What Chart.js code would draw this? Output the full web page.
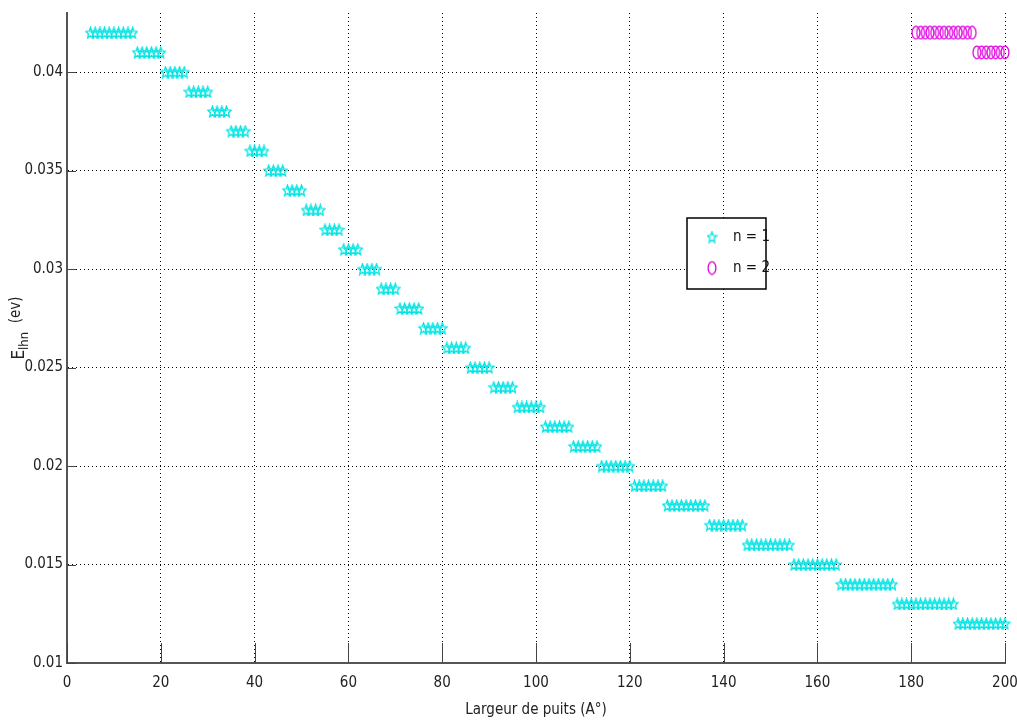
<!DOCTYPE html>
<html>
<head>
<meta charset="utf-8">
<script src="https://cdn.jsdelivr.net/npm/chart.js@4/dist/chart.umd.min.js"></script>
<style>
  html, body { margin: 0; padding: 0; background: #fff; }
  #wellChart { display: block; }
</style>
</head>
<body>
<canvas id="wellChart" width="1017" height="728"></canvas>
<script>
const xTicks = [0, 20, 40, 60, 80, 100, 120, 140, 160, 180, 200];
const yTicks = [0.01, 0.015, 0.02, 0.025, 0.03, 0.035, 0.04];

const n1X = [
  5, 6, 7, 8, 9, 10, 11, 12, 13, 14, 15, 16, 17, 18, 19, 20,
  21, 22, 23, 24, 25, 26, 27, 28, 29, 30, 31, 32, 33, 34, 35, 36, 37, 38, 39, 40,
  41, 42, 43, 44, 45, 46, 47, 48, 49, 50, 51, 52, 53, 54, 55, 56, 57, 58, 59, 60,
  61, 62, 63, 64, 65, 66, 67, 68, 69, 70, 71, 72, 73, 74, 75, 76, 77, 78, 79, 80,
  81, 82, 83, 84, 85, 86, 87, 88, 89, 90, 91, 92, 93, 94, 95, 96, 97, 98, 99, 100,
  101, 102, 103, 104, 105, 106, 107, 108, 109, 110, 111, 112, 113, 114, 115, 116, 117, 118, 119, 120,
  121, 122, 123, 124, 125, 126, 127, 128, 129, 130, 131, 132, 133, 134, 135, 136, 137, 138, 139, 140,
  141, 142, 143, 144, 145, 146, 147, 148, 149, 150, 151, 152, 153, 154, 155, 156, 157, 158, 159, 160,
  161, 162, 163, 164, 165, 166, 167, 168, 169, 170, 171, 172, 173, 174, 175, 176, 177, 178, 179, 180,
  181, 182, 183, 184, 185, 186, 187, 188, 189, 190, 191, 192, 193, 194, 195, 196, 197, 198, 199, 200
];
const n1Y = [
  0.042, 0.042, 0.042, 0.042, 0.042, 0.042, 0.042, 0.042, 0.042, 0.042,
  0.041, 0.041, 0.041, 0.041, 0.041, 0.041,
  0.040, 0.040, 0.040, 0.040, 0.040,
  0.039, 0.039, 0.039, 0.039, 0.039,
  0.038, 0.038, 0.038, 0.038,
  0.037, 0.037, 0.037, 0.037,
  0.036, 0.036, 0.036, 0.036,
  0.035, 0.035, 0.035, 0.035,
  0.034, 0.034, 0.034, 0.034,
  0.033, 0.033, 0.033, 0.033,
  0.032, 0.032, 0.032, 0.032,
  0.031, 0.031, 0.031, 0.031,
  0.030, 0.030, 0.030, 0.030,
  0.029, 0.029, 0.029, 0.029,
  0.028, 0.028, 0.028, 0.028, 0.028,
  0.027, 0.027, 0.027, 0.027, 0.027,
  0.026, 0.026, 0.026, 0.026, 0.026,
  0.025, 0.025, 0.025, 0.025, 0.025,
  0.024, 0.024, 0.024, 0.024, 0.024,
  0.023, 0.023, 0.023, 0.023, 0.023, 0.023,
  0.022, 0.022, 0.022, 0.022, 0.022, 0.022,
  0.021, 0.021, 0.021, 0.021, 0.021, 0.021,
  0.020, 0.020, 0.020, 0.020, 0.020, 0.020, 0.020,
  0.019, 0.019, 0.019, 0.019, 0.019, 0.019, 0.019,
  0.018, 0.018, 0.018, 0.018, 0.018, 0.018, 0.018, 0.018, 0.018,
  0.017, 0.017, 0.017, 0.017, 0.017, 0.017, 0.017, 0.017,
  0.016, 0.016, 0.016, 0.016, 0.016, 0.016, 0.016, 0.016, 0.016, 0.016,
  0.015, 0.015, 0.015, 0.015, 0.015, 0.015, 0.015, 0.015, 0.015, 0.015,
  0.014, 0.014, 0.014, 0.014, 0.014, 0.014, 0.014, 0.014, 0.014, 0.014, 0.014, 0.014,
  0.013, 0.013, 0.013, 0.013, 0.013, 0.013, 0.013, 0.013, 0.013, 0.013, 0.013, 0.013, 0.013,
  0.012, 0.012, 0.012, 0.012, 0.012, 0.012, 0.012, 0.012, 0.012, 0.012, 0.012
];

const n2X = [181, 182, 183, 184, 185, 186, 187, 188, 189, 190, 191, 192, 193, 194, 195, 196, 197, 198, 199, 200];
const n2Y = [
  0.042, 0.042, 0.042, 0.042, 0.042, 0.042, 0.042, 0.042, 0.042, 0.042, 0.042, 0.042, 0.042,
  0.041, 0.041, 0.041, 0.041, 0.041, 0.041, 0.041
];

const seriesLabels = ['n = 1', 'n = 2'];

const CYAN = '#00e4e4';
const MAGENTA = '#e000e0';
const FONT = "'Liberation Sans Narrow', 'DejaVu Sans Condensed', 'Liberation Sans', sans-serif";

// hollow pentagram marker, a bit taller than wide like the original
function makeStar(color) {
  const c = document.createElement('canvas');
  c.width = 11; c.height = 13;
  const g = c.getContext('2d');
  g.strokeStyle = color;
  g.lineWidth = 1.3;
  g.beginPath();
  for (let i = 0; i < 10; i++) {
    const r = i % 2 === 0 ? 1 : 0.45;
    const a = -Math.PI / 2 + i * Math.PI / 5;
    const px = 5.5 + Math.cos(a) * r * 4.8;
    const py = 7 + Math.sin(a) * r * 5.8;
    if (i === 0) g.moveTo(px, py); else g.lineTo(px, py);
  }
  g.closePath();
  g.stroke();
  return c;
}

function makeRing(color) {
  const c = document.createElement('canvas');
  c.width = 10; c.height = 15;
  const g = c.getContext('2d');
  g.strokeStyle = color;
  g.lineWidth = 1.3;
  g.beginPath();
  g.ellipse(5, 7.5, 3.9, 6.3, 0, 0, Math.PI * 2);
  g.stroke();
  return c;
}

const starMark = makeStar(CYAN);
const ringMark = makeRing(MAGENTA);

const zip = (xs, ys) => xs.map((x, i) => ({ x: x, y: ys[i] }));

const insideTicks = {
  id: 'insideTicks',
  afterDraw(chart) {
    const { ctx, chartArea: a, scales } = chart;
    ctx.save();
    ctx.strokeStyle = '#444';
    ctx.lineWidth = 1;
    ctx.beginPath();
    scales.x.ticks.forEach(t => {
      const px = Math.round(scales.x.getPixelForValue(t.value)) + 0.5;
      ctx.moveTo(px, a.bottom);
      ctx.lineTo(px, a.bottom - 20);
    });
    scales.y.ticks.forEach(t => {
      const py = Math.round(scales.y.getPixelForValue(t.value)) + 0.5;
      ctx.moveTo(a.left, py);
      ctx.lineTo(a.left + 9, py);
    });
    ctx.stroke();

    // axis titles
    ctx.fillStyle = '#222';
    ctx.textAlign = 'center';
    ctx.textBaseline = 'middle';
    ctx.font = '15px ' + FONT;
    ctx.fillText('Largeur de puits (A°)', (a.left + a.right) / 2, 710);

    ctx.translate(18, 328);
    ctx.rotate(-Math.PI / 2);
    ctx.textAlign = 'left';
    ctx.textBaseline = 'alphabetic';
    const e = 'E', sub = 'lhn', rest = '  (ev)';
    ctx.font = '17px ' + FONT;
    const we = ctx.measureText(e).width;
    ctx.font = '13px ' + FONT;
    const ws = ctx.measureText(sub).width;
    ctx.font = '15px ' + FONT;
    const wr = ctx.measureText(rest).width;
    let cx = -(we + ws + wr) / 2;
    ctx.font = '17px ' + FONT;
    ctx.fillText(e, cx, 6);
    cx += we;
    ctx.font = '13px ' + FONT;
    ctx.fillText(sub, cx, 10);
    cx += ws;
    ctx.font = '15px ' + FONT;
    ctx.fillText(rest, cx, 2);
    ctx.restore();
  }
};

const boxLegend = {
  id: 'boxLegend',
  afterDraw(chart) {
    const { ctx } = chart;
    const bx = 687, by = 218, bw = 79, bh = 71;
    ctx.save();
    ctx.fillStyle = '#fff';
    ctx.fillRect(bx, by, bw, bh);
    ctx.strokeStyle = '#000';
    ctx.lineWidth = 1.5;
    ctx.strokeRect(bx, by, bw, bh);
    ctx.font = '15px ' + FONT;
    ctx.fillStyle = '#111';
    ctx.textBaseline = 'middle';
    ctx.textAlign = 'left';
    chart.data.datasets.forEach((ds, i) => {
      const y = by + 19 + i * 31;
      const m = ds.pointStyle;
      ctx.drawImage(m, bx + 25 - m.width / 2, y - m.height / 2);
      ctx.fillText(ds.label, bx + 46, y);
    });
    ctx.restore();
  }
};

const ctx = document.getElementById('wellChart').getContext('2d');

new Chart(ctx, {
  type: 'scatter',
  data: {
    datasets: [
      {
        label: seriesLabels[0],
        data: zip(n1X, n1Y),
        pointStyle: starMark,
        borderColor: CYAN,
        backgroundColor: CYAN,
        pointRadius: 5,
        clip: false
      },
      {
        label: seriesLabels[1],
        data: zip(n2X, n2Y),
        pointStyle: ringMark,
        borderColor: MAGENTA,
        backgroundColor: MAGENTA,
        pointRadius: 5,
        clip: false
      }
    ]
  },
  options: {
    responsive: false,
    animation: false,
    layout: { padding: { left: 0, right: 12, top: 13, bottom: 0 } },
    plugins: {
      legend: { display: false },
      tooltip: { enabled: false }
    },
    scales: {
      x: {
        type: 'linear',
        min: 0,
        max: 200,
        afterBuildTicks: s => { s.ticks = xTicks.map(v => ({ value: v })); },
        afterFit: s => { s.height = 65; s.paddingLeft = 0; s.paddingRight = 0; },
        grid: { color: '#000', lineWidth: 1, drawTicks: false },
        border: { display: true, color: '#555', width: 2, dash: [1, 3] },
        ticks: {
          autoSkip: false,
          maxRotation: 0,
          padding: 11,
          color: '#222',
          font: { family: FONT, size: 15 },
          callback: v => String(v)
        }
      },
      y: {
        type: 'linear',
        min: 0.01,
        max: 0.043,
        afterBuildTicks: s => { s.ticks = yTicks.map(v => ({ value: v })); },
        afterFit: s => { s.width = 67; s.paddingTop = 0; s.paddingBottom = 0; },
        grid: { color: '#000', lineWidth: 1, drawTicks: false },
        border: { display: true, color: '#555', width: 2, dash: [1, 3] },
        ticks: {
          autoSkip: false,
          padding: 4,
          color: '#222',
          font: { family: FONT, size: 15 },
          callback: v => String(+v.toFixed(3))
        }
      }
    }
  },
  plugins: [insideTicks, boxLegend]
});
</script>
</body>
</html>
